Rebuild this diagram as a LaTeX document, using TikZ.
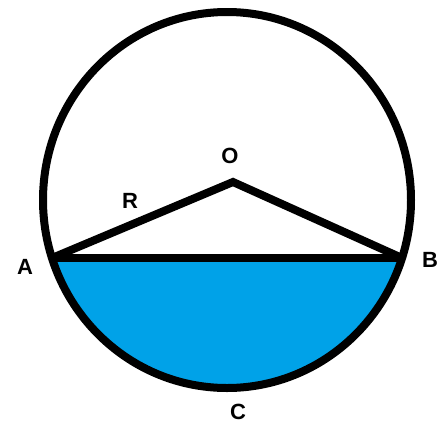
\documentclass[tikz,border=0pt]{standalone}
\usepackage{fontspec}
\setmainfont{Liberation Sans}
\definecolor{water}{HTML}{00A2E8}

\begin{document}
\begin{tikzpicture}[
  x=1pt, y=-1pt,
  rim/.style={line width=8pt},
  lbl/.style={font=\fontsize{22}{22}\selectfont\bfseries, inner sep=0pt},
]
\useasboundingbox (0,0) rectangle (439,426);
% points of the figure
\coordinate (M) at (227,200);
\coordinate (A) at (52,258);
\coordinate (B) at (402,258);
\coordinate (O) at (233,182);
% lower segment filled
\fill[water] (B) arc[start angle=17.97, end angle=162.03, x radius=184, y radius=188] -- cycle;
% circle, chord and radii
\draw[rim] (M) ellipse[x radius=184, y radius=188];
\draw[rim] (A) -- (B);
\draw[rim, line join=miter] (A) -- (O) -- (B);
% labels
\node[lbl] (lO) at (230,156) {O};
\node[lbl] (lR) at (130,201) {R};
\node[lbl] (lA) at (25,267) {A};
\node[lbl] (lB) at (430,260) {B};
\node[lbl] (lC) at (238,412) {C};
\end{tikzpicture}
\end{document}
